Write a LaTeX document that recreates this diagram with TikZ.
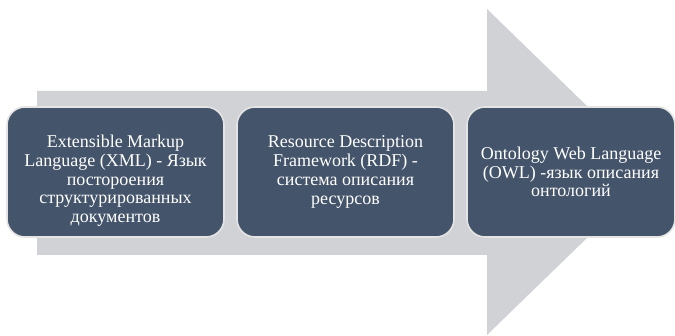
\documentclass[tikz,border=0pt]{standalone}
\usepackage{fontspec}
\setmainfont{Liberation Serif}
\usetikzlibrary{positioning}
\definecolor{boxblue}{HTML}{44546A}
\definecolor{arrowgray}{HTML}{D0D2D6}
\definecolor{rimgray}{HTML}{E4E4E4}
\begin{document}
\begin{tikzpicture}[
            x=1pt, y=-1pt,
            stage/.style={
                rectangle, rounded corners=18pt, draw=rimgray, line width=1.6pt,
                fill=boxblue, text=white, align=center,
                minimum width=#1, minimum height=130pt,
                inner sep=1pt, outer sep=0pt,
                font=\fontsize{18}{18.8}\selectfont,
            },
            stage/.default=217pt,
            node distance=13pt,
        ]
        \useasboundingbox (0, 0) rectangle (675, 336);

        % arrow
        \fill[arrowgray] (37, 91) -- (487, 91) -- (487, 9) -- (655, 172)
            -- (487, 335) -- (487, 255) -- (37, 255) -- cycle;

        % stages
        \node[stage] (xml) at (115.5, 172)
            {\rule{0pt}{30pt}Extensible Markup\\Language (XML) - Язык\\постороения\\структурированных\\документов};
        \node[stage, right=of xml] (rdf)
            {Resource Description\\Framework (RDF) -\\система описания\\ресурсов};
        \node[stage=208pt, right=of rdf] (owl)
            {Ontology Web Language\\(OWL) -язык описания\\онтологий};
    \end{tikzpicture}
\end{document}
